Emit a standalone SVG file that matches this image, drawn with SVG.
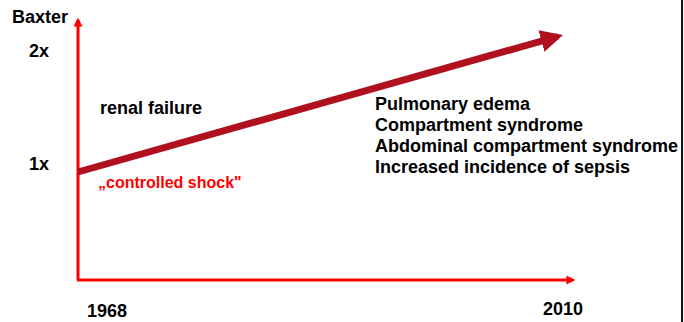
<svg xmlns="http://www.w3.org/2000/svg" width="684" height="322" viewBox="0 0 684 322">
<style>
.t{font-family:"Liberation Sans",Arial,sans-serif;font-weight:bold;fill:#000;font-size:18px}
.ax{stroke:#ff0000;stroke-width:3;fill:none}
</style>
<defs>
<marker id="ah" markerWidth="3" markerHeight="3" refX="2.2" refY="1.5" orient="auto" markerUnits="strokeWidth"><path d="M0,0 L3,1.5 L0,3 z" fill="#ff0000"/></marker>
<marker id="ah2" markerWidth="3.2" markerHeight="3.2" refX="2.4" refY="1.6" orient="auto" markerUnits="strokeWidth"><path d="M0,0 L3.2,1.6 L0,3.2 z" fill="#b0111f"/></marker>
</defs>
<rect width="684" height="322" fill="#fff"/>
<line x1="682" y1="0" x2="682" y2="322" stroke="#111" stroke-width="2"/>
<g id="axes">
<line class="ax" x1="78" y1="280" x2="78" y2="20" marker-end="url(#ah)"/>
<line class="ax" x1="77" y1="280" x2="573" y2="280" marker-end="url(#ah)"/>
</g>
<g id="connectors">
<line x1="78" y1="172" x2="557.6" y2="36.5" stroke="#b0111f" stroke-width="7" marker-end="url(#ah2)"/>
</g>
<g id="labels">
<text class="t" x="12" y="23">Baxter</text>
<text class="t" x="29" y="57">2x</text>
<text class="t" x="29" y="170">1x</text>
<text class="t" x="100" y="114">renal failure</text>
<text class="t" x="87" y="317">1968</text>
<text class="t" x="543" y="315">2010</text>
<text x="98" y="188" font-family="'Liberation Sans',Arial,sans-serif" font-weight="bold" font-size="16" fill="#ff0000">„controlled shock"</text>
</g>
<g id="complications">
<text class="t" x="375" y="110">Pulmonary edema</text>
<text class="t" x="375" y="131">Compartment syndrome</text>
<text class="t" x="375" y="152">Abdominal compartment syndrome</text>
<text class="t" x="375" y="173">Increased incidence of sepsis</text>
</g>
</svg>
